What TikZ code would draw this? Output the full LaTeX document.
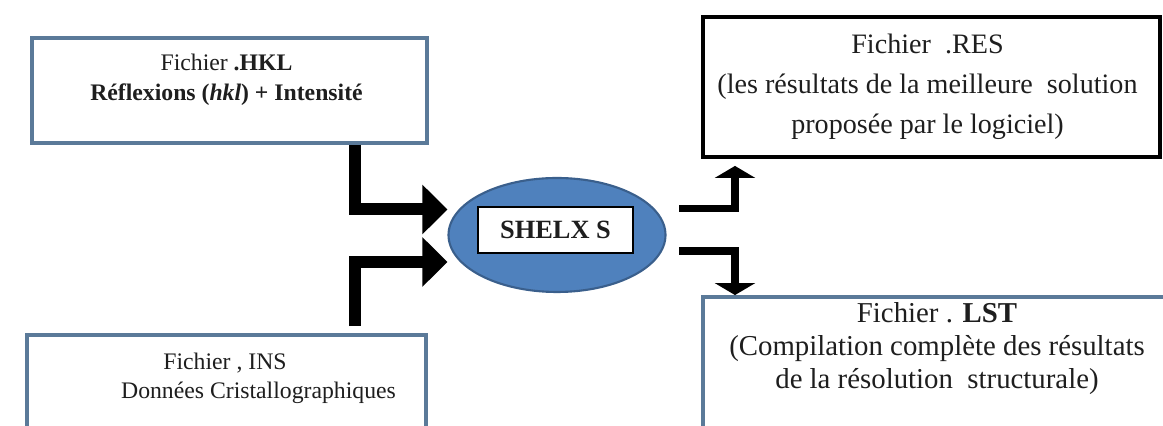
\documentclass[tikz,border=0pt]{standalone}
\usepackage{fontspec}
\setmainfont{Liberation Serif}
\usetikzlibrary{arrows.meta, positioning, shapes.geometric}
\definecolor{boxblue}{HTML}{5B7A99}
\definecolor{ellfill}{HTML}{4F81BD}
\definecolor{elldraw}{HTML}{3A5F8C}
\definecolor{inkgray}{HTML}{1E1E1E}
\tikzset{
    filebox/.style={draw=boxblue, line width=2.2pt, fill=white, inner sep=0pt},
    smalltxt/.style={text=inkgray, align=center, font=\fontsize{13.5}{17}\selectfont},
    bigtxt/.style={text=inkgray, align=center, font=\fontsize{16}{22.7}\selectfont},
    fatarrow/.style={draw=black, line width=0.24cm,
        -{Triangle[length=0.5cm, width=0.96cm]}},
    thinarrow/.style={draw=black, line width=0.15cm,
        -{Triangle[length=0.24cm, width=0.8cm]}}
}

\begin{document}
\begin{tikzpicture}
    \useasboundingbox (0,0) rectangle (23.26,8.52);
    \clip (0,0) rectangle (23.26,8.52);
    % input files
    \node[filebox, minimum width=7.9cm, minimum height=2.1cm] (hkl) at (4.59,6.71) {};
    \node[smalltxt] (hkltxt) at (4.53,6.92) {Fichier \textbf{.HKL}\\ \textbf{Réflexions (\textit{hkl}) + Intensité}};
    \node[filebox, minimum width=7.98cm, minimum height=2.22cm] (ins) at (4.53,0.71) {};
    \node[smalltxt] (insa) at (4.5,1.26) {Fichier , INS};
    \node[smalltxt] (insb) at (5.17,0.66) {Données Cristallographiques};
    % program
    \node[ellipse, draw=elldraw, line width=1.2pt, fill=ellfill,
        minimum width=4.34cm, minimum height=2.28cm] (shelx) at (11.14,3.82) {};
    \node[draw=black, line width=1pt, fill=white, minimum width=3.1cm, minimum height=0.92cm,
        font=\fontsize{15}{17}\selectfont\bfseries, text=inkgray] (prog) at (11.11,3.92) {SHELX S};
    % output files
    \node[filebox, draw=black, minimum width=9.14cm, minimum height=2.8cm] (res) at (18.63,6.78) {};
    \node[bigtxt] (restxt) at (18.55,6.78) {Fichier \ .RES\\ (les résultats de la meilleure \ solution\\ proposée par le logiciel)};
    \node[filebox, minimum width=9.44cm, minimum height=2.98cm] (lst) at (18.78,1.09) {};
    \node[bigtxt, font=\fontsize{16.4}{18.7}\selectfont] (lsttxt) at (18.74,1.55) {Fichier . \textbf{LST}\\ (Compilation complète des résultats\\ de la résolution \ structurale)};
    % connectors
    \coordinate (colin) at (7.1,0);
    \coordinate (ina) at (0,4.33);
    \coordinate (inb) at (0,3.28);
    \coordinate (outa) at (13.58,4.35);
    \coordinate (outb) at (13.58,3.5);
    \coordinate (colout) at (14.7,0);
    \draw[fatarrow] (hkl.south -| colin) |- (shelx.west |- ina);
    \draw[fatarrow] ([yshift=0.14cm]ins.north -| colin) |- (shelx.west |- inb);
    \draw[thinarrow] (outa) -| ([yshift=-0.14cm]res.south -| colout);
    \draw[thinarrow] (outb) -| (lst.north -| colout);
\end{tikzpicture}
\end{document}
